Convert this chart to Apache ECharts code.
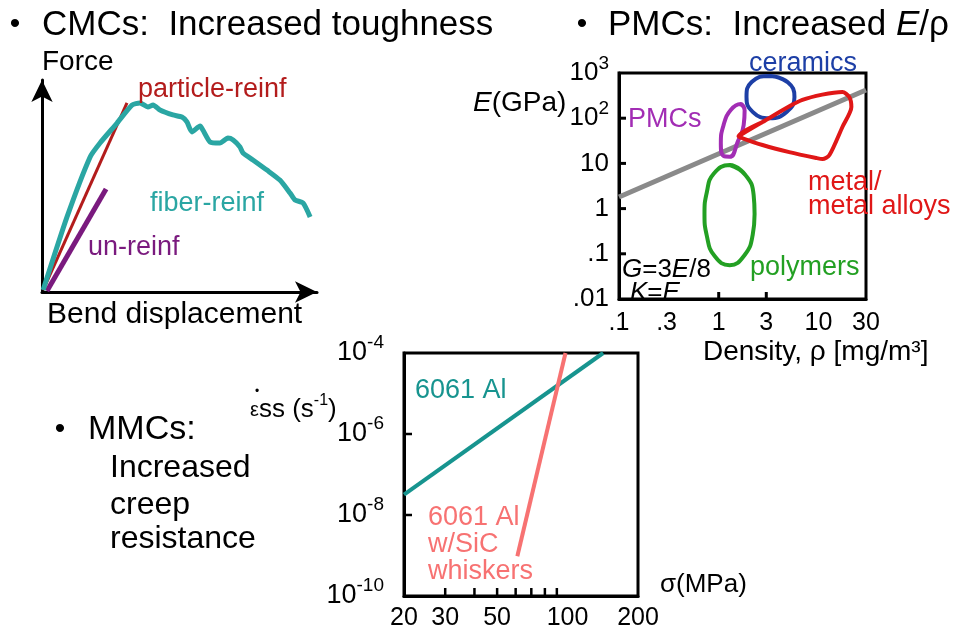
<!DOCTYPE html>
<html>
<head>
<meta charset="utf-8">
<script src="https://cdn.jsdelivr.net/npm/echarts@6/dist/echarts.min.js"></script>
<style>
html, body { margin: 0; padding: 0; background: #fff; }
#main { width: 963px; height: 631px; }
</style>
</head>
<body>
<div id="main"></div>
<script>
// CMCs: force vs bend displacement (arbitrary units, 0-10)
var fiberReinf = [[0.04, 0.09], [0.91, 3.54], [1.75, 6.37], [2.11, 7.03], [2.73, 7.97], [3.27, 8.82],
  [3.56, 8.92], [3.85, 8.73], [4.04, 8.82], [4.29, 8.58], [4.76, 8.35], [5.09, 8.25], [5.27, 8.02],
  [5.45, 7.55], [5.75, 7.83], [5.85, 7.64], [6.11, 7.08], [6.47, 7.03], [6.76, 7.26], [6.95, 7.17],
  [7.2, 6.84], [7.31, 6.56], [7.67, 6.23], [8.18, 5.75], [8.65, 5.28], [9.02, 4.67], [9.2, 4.34],
  [9.49, 4.2], [9.75, 3.54]]
var particleReinf = [[0.04, 0.09], [3.09, 8.92]]
var unReinf = [[0.18, 0.05], [2.33, 4.86]]

// PMCs: modulus E (GPa) vs density (mg/m^3), region outlines
var ceramics = [[3.24, 860], [4.9, 630], [5.75, 295], [4.8, 138], [3.24, 100], [2.19, 138], [1.9, 295], [2.14, 630]]
var pmcs = [[1.66, 206], [1.82, 152], [1.78, 71], [1.55, 30], [1.29, 14], [1.12, 14.5], [1.05, 28], [1.12, 71], [1.32, 152]]
var polymers = [[1.29, 9.2], [1.86, 5.5], [2.24, 2.0], [2.29, 0.76], [2.19, 0.26], [1.82, 0.094], [1.29, 0.056],
  [0.91, 0.089], [0.76, 0.25], [0.72, 0.76], [0.76, 2.3], [0.89, 5.9]]
var metals = [[1.58, 40], [2.75, 82], [6.9, 253], [17.4, 380], [20.4, 295], [21.4, 177], [17.4, 64], [12.9, 15.3],
  [11, 12.5], [9.5, 13.2], [5.1, 17.8], [2.75, 25.5], [1.74, 36]]
var specificStiffness = [[0.1, 1.8], [30, 420]]
var densityTicks = [0.1, 0.3, 1, 3, 10, 30]
var densityLabels = ['.1', '.3', '1', '3', '10', '30']
var densityMarks = [1, 3]
var modulusTicks = [0.01, 0.1, 1, 10, 100, 1000]
var modulusLabels = ['.01', '.1', '1', '10', '10^2', '10^3']
var modulusMarks = [0.1, 1, 10, 100]

// MMCs: steady-state creep rate (1/s) vs stress (MPa)
var al6061 = [[20, 3.2e-8], [142, 1e-4]]
var al6061SiC = [[61, 9.6e-10], [98, 1e-4]]
var stressTicks = [20, 30, 50, 100, 200]
var stressMarks = [30, 40, 50, 60, 70, 80, 90]
var rateTicks = [1e-10, 1e-8, 1e-6, 1e-4]
var rateLabels = ['10^-10', '10^-8', '10^-6', '10^-4']
var rateMarks = [1e-8, 1e-6]

var FONT = 'Liberation Sans, Arial, sans-serif'
var lg = Math.log10

function toLog(pts) {
  return pts.map(function(p) { return [lg(p[0]), lg(p[1])] })
}
function closed(pts) {
  var out = toLog(pts)
  out.push(out[0], out[1])
  return out
}
// '10^3' -> base + superscript rich tokens
function labelFor(ticks, labels) {
  return function(v) {
    for (var i = 0; i < ticks.length; i++) {
      if (Math.abs(lg(ticks[i]) - v) < 1e-6) {
        var parts = String(labels[i]).split('^')
        return '{b|' + parts[0] + '}' + (parts[1] ? '{sup|' + parts[1] + '}' : '')
      }
    }
    return ''
  }
}
function supRich(size) {
  return {
    b: { fontSize: size, fontFamily: FONT, color: '#000', lineHeight: size + 12 },
    sup: { fontSize: Math.round(size * 0.72), fontFamily: FONT, color: '#000', lineHeight: Math.round(size * 0.72), verticalAlign: 'top' }
  }
}

// inner tick marks: [x, y, dir] in log units, dir 0 = up from bottom edge, 1 = right from left edge
function tickData(xMarks, yMarks, xMin, yMin) {
  var d = []
  xMarks.forEach(function(v) { d.push([lg(v), yMin, 0]) })
  yMarks.forEach(function(v) { d.push([xMin, lg(v), 1]) })
  return d
}
function tickSeries(idx, data, len, width) {
  return {
    type: 'custom', xAxisIndex: idx, yAxisIndex: idx, data: data, silent: true, z: 5,
    renderItem: function(params, api) {
      var p = api.coord([api.value(0), api.value(1)])
      var up = api.value(2) === 0
      return {
        type: 'line',
        shape: { x1: p[0], y1: p[1], x2: up ? p[0] : p[0] + len, y2: up ? p[1] - len : p[1] },
        style: { stroke: '#000', lineWidth: width }
      }
    }
  }
}

function txt(x, y, text, size, color, extra) {
  var style = {
    text: text, fontSize: size, fontFamily: FONT, fill: color || '#000',
    align: 'left', verticalAlign: 'middle'
  }
  if (extra) {
    for (var k in extra) style[k] = extra[k]
  }
  return { type: 'text', x: x, y: y, z: 50, style: style }
}
var ital = function(size, color) {
  return { i: { fontStyle: 'italic', fontSize: size, fontFamily: FONT, fill: color || '#000' },
    n: { fontSize: size, fontFamily: FONT, fill: color || '#000' } }
}

var chart = echarts.init(document.getElementById('main'))

var hidden = { show: false }
var frameLine = { show: true, onZero: false, lineStyle: { color: '#000', width: 3 } }
var option = {
  backgroundColor: '#fff',
  animation: false,
  grid: [
    { left: 42, top: 80, width: 275, height: 212 },
    { left: 619, top: 73, width: 247, height: 226, show: true, borderColor: '#000', borderWidth: 3 },
    { left: 404, top: 353, width: 234, height: 244, show: true, borderColor: '#000', borderWidth: 3 }
  ],
  xAxis: [
    {
      gridIndex: 0, type: 'value', min: 0, max: 10,
      axisLine: { show: true, symbol: ['none', 'arrow'], symbolSize: [16, 22], lineStyle: { color: '#000', width: 3 } },
      axisTick: hidden, axisLabel: hidden, splitLine: hidden
    },
    {
      gridIndex: 1, type: 'value', min: -1, max: lg(30),
      axisLine: frameLine, splitLine: hidden, axisTick: hidden,
      axisLabel: { customValues: densityTicks.map(lg), formatter: labelFor(densityTicks, densityLabels), margin: 6, rich: supRich(25) }
    },
    {
      gridIndex: 2, type: 'value', min: lg(20), max: lg(200),
      axisLine: frameLine, splitLine: hidden, axisTick: hidden,
      axisLabel: { customValues: stressTicks.map(lg), formatter: labelFor(stressTicks, stressTicks), margin: 4, rich: supRich(25) }
    }
  ],
  yAxis: [
    {
      gridIndex: 0, type: 'value', min: 0, max: 10,
      axisLine: { show: true, symbol: ['none', 'arrow'], symbolSize: [16, 22], lineStyle: { color: '#000', width: 3 } },
      axisTick: hidden, axisLabel: hidden, splitLine: hidden
    },
    {
      gridIndex: 1, type: 'value', min: -2, max: 3, interval: 1,
      axisLine: frameLine, splitLine: hidden, axisTick: hidden,
      axisLabel: { formatter: labelFor(modulusTicks, modulusLabels), margin: 10, rich: supRich(26) }
    },
    {
      gridIndex: 2, type: 'value', min: -10, max: -4, interval: 2,
      axisLine: frameLine, splitLine: hidden, axisTick: hidden,
      axisLabel: { formatter: labelFor(rateTicks, rateLabels), margin: 20, rich: supRich(27) }
    }
  ],
  series: [
    { name: 'particle-reinf', type: 'line', xAxisIndex: 0, yAxisIndex: 0, data: particleReinf,
      showSymbol: false, lineStyle: { color: '#b31c1c', width: 3 } },
    { name: 'un-reinf', type: 'line', xAxisIndex: 0, yAxisIndex: 0, data: unReinf,
      showSymbol: false, lineStyle: { color: '#7a1a7e', width: 5 } },
    { name: 'fiber-reinf', type: 'line', xAxisIndex: 0, yAxisIndex: 0, data: fiberReinf,
      showSymbol: false, smooth: 0.2, lineStyle: { color: '#2aa6a3', width: 5 } },

    tickSeries(1, tickData(densityMarks, modulusMarks, -1, -2), 7, 3),
    { name: 'E/rho', type: 'line', xAxisIndex: 1, yAxisIndex: 1, data: toLog(specificStiffness),
      showSymbol: false, lineStyle: { color: '#8a8a8a', width: 5 } },
    { name: 'ceramics', type: 'line', xAxisIndex: 1, yAxisIndex: 1, data: closed(ceramics),
      showSymbol: false, smooth: 0.5, lineStyle: { color: '#1d3fa6', width: 4 } },
    { name: 'PMCs', type: 'line', xAxisIndex: 1, yAxisIndex: 1, data: closed(pmcs),
      showSymbol: false, smooth: 0.5, lineStyle: { color: '#a22db4', width: 4 } },
    { name: 'polymers', type: 'line', xAxisIndex: 1, yAxisIndex: 1, data: closed(polymers),
      showSymbol: false, smooth: 0.5, lineStyle: { color: '#23a023', width: 4 } },
    { name: 'metals', type: 'line', xAxisIndex: 1, yAxisIndex: 1, data: closed(metals),
      showSymbol: false, smooth: 0.25, lineStyle: { color: '#e01717', width: 4 } },

    tickSeries(2, tickData(stressMarks, rateMarks, lg(20), -10), 8, 2.5),
    { name: '6061 Al', type: 'line', xAxisIndex: 2, yAxisIndex: 2, data: toLog(al6061),
      showSymbol: false, lineStyle: { color: '#17948f', width: 4 } },
    { name: '6061 Al w/SiC', type: 'line', xAxisIndex: 2, yAxisIndex: 2, data: toLog(al6061SiC),
      showSymbol: false, lineStyle: { color: '#f77272', width: 4 } }
  ],
  graphic: [
    // CMCs panel
    txt(15, 25, '•', 30, '#000', { align: 'center' }),
    txt(42, 25, 'CMCs:  Increased toughness', 35),
    txt(42, 62, 'Force', 28),
    txt(47, 315, 'Bend displacement', 30),
    txt(138, 90, 'particle-reinf', 27, '#b31c1c'),
    txt(150, 204, 'fiber-reinf', 27, '#2aa6a3'),
    txt(88, 248, 'un-reinf', 27, '#7a1a7e'),
    // PMCs panel
    txt(582, 25, '•', 30, '#000', { align: 'center' }),
    txt(608, 25, '{n|PMCs:  Increased }{i|E}{n|/ρ}', 35, '#000', { rich: ital(35) }),
    txt(473, 103, '{i|E}{n|(GPa)}', 28, '#000', { rich: ital(28) }),
    txt(749, 64, 'ceramics', 27, '#1d3fa6'),
    txt(628, 120, 'PMCs', 27, '#a22db4'),
    txt(808, 183, 'metal/', 27, '#e01717'),
    txt(808, 207, 'metal alloys', 27, '#e01717'),
    txt(750, 268, 'polymers', 27, '#23a023'),
    txt(622, 270, '{i|G}{n|=3}{i|E}{n|/8}', 26, '#000', { rich: ital(26) }),
    txt(630, 293, '{i|K}{n|=}{i|E}', 26, '#000', { rich: ital(26) }),
    txt(703, 352, 'Density, ρ [mg/m³]', 28),
    // MMCs panel
    txt(60, 430, '•', 30, '#000', { align: 'center' }),
    txt(88, 430, 'MMCs:', 34),
    txt(110, 468, 'Increased', 32),
    txt(110, 505, 'creep', 32),
    txt(110, 539, 'resistance', 32),
    txt(257, 392, '•', 12, '#000', { align: 'center' }),
    txt(250, 410, '{e|ε}{n|ss}{n| (s}{s|-1}{n|)}', 26, '#000', {
      rich: {
        e: { fontSize: 20, fontFamily: FONT, fill: '#000', lineHeight: 34, verticalAlign: 'middle' },
        n: { fontSize: 26, fontFamily: FONT, fill: '#000', lineHeight: 34 },
        s: { fontSize: 16, fontFamily: FONT, fill: '#000', lineHeight: 16, verticalAlign: 'top' }
      }
    }),
    txt(415, 391, '6061 Al', 27, '#17948f'),
    txt(428, 518, '6061 Al', 27, '#f77272'),
    txt(428, 545, 'w/SiC', 27, '#f77272'),
    txt(428, 572, 'whiskers', 27, '#f77272'),
    txt(660, 585, 'σ(MPa)', 26)
  ]
}
chart.setOption(option)
</script>
</body>
</html>
